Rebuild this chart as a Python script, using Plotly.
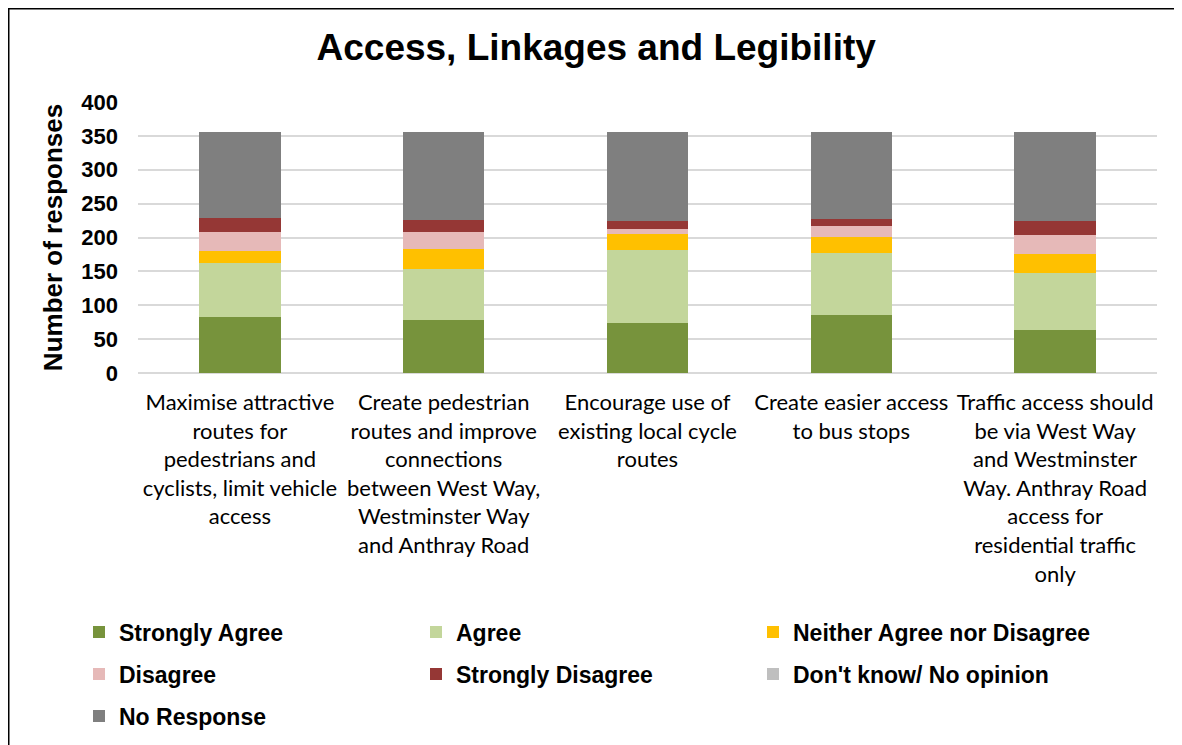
import plotly.graph_objects as go

categories = [
    "Maximise attractive<br>routes for<br>pedestrians and<br>cyclists, limit vehicle<br>access",
    "Create pedestrian<br>routes and improve<br>connections<br>between West Way,<br>Westminster Way<br>and Anthray Road",
    "Encourage use of<br>existing local cycle<br>routes",
    "Create easier access<br>to bus stops",
    "Traffic access should<br>be via West Way<br>and Westminster<br>Way. Anthray Road<br>access for<br>residential traffic<br>only",
]

strongly_agree = [83, 78, 74, 85, 64]
agree = [79, 75, 107, 92, 83]
neither = [18, 30, 24, 24, 29]
disagree = [28, 25, 8, 16, 28]
strongly_disagree = [21, 18, 11, 10, 20]
dont_know = [0, 0, 0, 0, 0]
no_response = [127, 130, 131, 129, 132]

series_names = ["Strongly Agree", "Agree", "Neither Agree nor Disagree",
                "Disagree", "Strongly Disagree", "Don't know/ No opinion", "No Response"]
series_values = [strongly_agree, agree, neither, disagree, strongly_disagree, dont_know, no_response]
series_colors = ["#77933c", "#c3d69b", "#ffc000", "#e6b9b8", "#953735", "#bfbfbf", "#7f7f7f"]
legend_rows = ["legend", "legend", "legend", "legend2", "legend2", "legend2", "legend3"]

# page has an 8px body margin; work in figure pixels
W, H = 1174, 737
PL, PR, PT, PB = 130, 1149, 94, 365
pw, ph = PR - PL, PB - PT

def px_x(p):
    return (p - PL) / pw

def px_y(p):
    return (PB - p) / ph

fig = go.Figure()
for name, vals, col, lg in zip(series_names, series_values, series_colors, legend_rows):
    fig.add_trace(go.Bar(x=categories, y=vals, name=name, marker_color=col,
                         marker_line_width=0, legend=lg))

legend_common = dict(orientation="h", entrywidth=292, entrywidthmode="pixels",
                     font=dict(family="Liberation Sans", size=23, color="#000000", weight="bold"),
                     xanchor="left", yanchor="middle", bgcolor="rgba(0,0,0,0)",
                     itemwidth=30, traceorder="normal")

fig.update_layout(
    width=W, height=H,
    margin=dict(l=PL, r=W - PR, t=PT, b=H - PB, autoexpand=False),
    paper_bgcolor="white", plot_bgcolor="white",
    barmode="stack", bargap=0.6,
    title=dict(text="Access, Linkages and Legibility", x=0.501, xanchor="center",
               y=1 - 39 / H, yanchor="middle",
               font=dict(family="Liberation Sans", size=37, color="#000000", weight="bold")),
    xaxis=dict(showgrid=False, showline=False, ticks="", zeroline=False,
               tickfont=dict(family="Lato", size=22, color="#000000"),
               ticklabelstandoff=14, automargin=False),
    yaxis=dict(range=[0, 400], dtick=50, showgrid=True, gridcolor="#d9d9d9", gridwidth=1.8,
               zeroline=True, zerolinecolor="#d9d9d9", zerolinewidth=1.8,
               showline=False, ticks="", automargin=False, ticklabelstandoff=19,
               tickfont=dict(family="Liberation Sans", size=22, color="#000000", weight="bold"),
               title=dict(text="Number of responses", standoff=11,
                          font=dict(family="Liberation Sans", size=26, color="#000000", weight="bold"))),
    legend=dict(legend_common, x=px_x(71), y=px_y(624)),
    legend2=dict(legend_common, x=px_x(71), y=px_y(666)),
    legend3=dict(legend_common, x=px_x(71), y=px_y(708)),
    shapes=[
        dict(type="line", xref="paper", yref="paper",
             x0=px_x(0.75), x1=px_x(0.75), y0=px_y(H), y1=px_y(0),
             line=dict(color="#000000", width=1.5), layer="below"),
        dict(type="line", xref="paper", yref="paper",
             x0=px_x(0), x1=px_x(W), y0=px_y(0.75), y1=px_y(0.75),
             line=dict(color="#000000", width=1.5), layer="below"),
    ],
)

fig.write_html("out.html")
